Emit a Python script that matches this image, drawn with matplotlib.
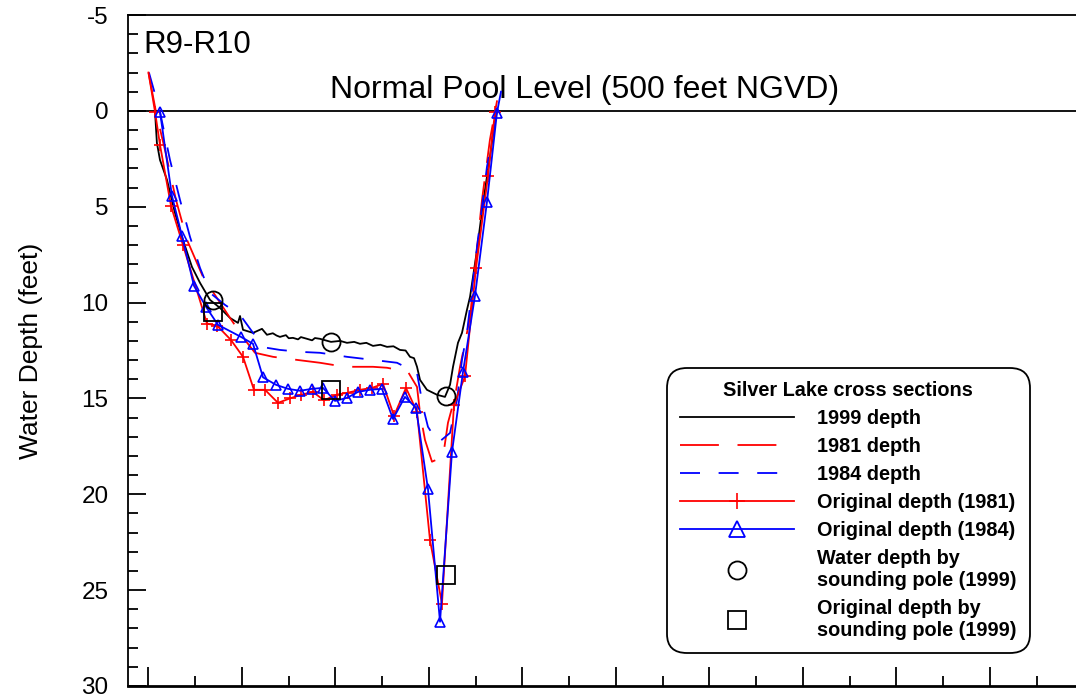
import numpy as np
import matplotlib as mpl
import matplotlib.pyplot as plt
from matplotlib.lines import Line2D
from matplotlib.ticker import MultipleLocator

mpl.rcParams.update({"font.family": ["Liberation Sans", "DejaVu Sans"], "lines.scale_dashes": False,
                     "axes.unicode_minus": False})

# --- values (station in feet, depth in feet below normal pool) ---
x1999 = [7, 9, 12.3, 19.8, 28.3, 36.9, 46.5, 55.1, 65.8, 76.5, 87.2, 95.7, 97.9, 101.1, 111.8,
         121.4, 126.7, 133, 137, 140.6, 147, 150, 154.5, 160, 163, 169.5, 175, 178, 183.4, 195.2,
         205, 212.3, 220, 226.2, 233, 240.1, 248, 255.1, 262, 269, 275, 279.7, 284, 287.2, 290.4,
         297.8, 308.6, 317.1, 322.5, 325.7, 331, 335.3, 340.6, 343.9, 351.4, 357.8, 365.2, 370.6, 372.7]
d1999 = [0.05, 1.67, 2.56, 3.6, 5.32, 6.73, 8.14, 8.97, 9.86, 10.28, 10.8, 11.06, 10.7, 11.42, 11.58,
         11.37, 11.68, 11.6, 11.72, 11.79, 11.7, 11.86, 11.84, 11.92, 11.8, 11.89, 11.97, 11.85, 11.89, 12.05,
         12.0, 12.1, 12.05, 12.15, 12.1, 12.26, 12.2, 12.31, 12.28, 12.47, 12.5, 12.83, 12.9, 13.35, 14.03,
         14.55, 14.81, 14.92, 14.29, 13.35, 12.1, 11.58, 10.38, 9.7, 7.25, 4.8, 2.4, 0.47, 0.05]

x1981 = [0, 8, 17.6, 29.4, 41.2, 58.3, 71.1, 87.2, 103.2, 113.9, 133.2, 158.8, 183.4, 197.3, 218.7,
         240.1, 255.1, 277.5, 287.2, 290.4, 295.7, 303.2, 315, 320.3, 327.8, 333.2, 338.5, 343.9, 356.7,
         365.2, 370.6]
d1981 = [-2.0, 0.05, 2.03, 4.64, 6.73, 8.66, 9.6, 10.8, 11.95, 12.62, 12.83, 12.99, 13.14, 13.25, 13.35,
         13.35, 13.4, 13.61, 14.4, 15.75, 17.16, 18.3, 18.05, 16.27, 14.92, 13.35, 12.1, 10.75, 4.64,
         1.5, 0.05]

x1984 = [0.5, 12.3, 23, 33.7, 44.4, 55.1, 65.8, 81.8, 97.9, 111.8, 126.7, 140.6, 162, 183.4, 212.3,
         240.1, 265.8, 287.2, 293.6, 298.9, 309.6, 322.5, 330, 335.3, 340.6, 351.4, 362, 367.4, 372.7]
d1984 = [-2.0, 0.05, 2.56, 4.64, 6.57, 8.19, 9.49, 10.12, 10.64, 11.58, 12.36, 12.47, 12.57, 12.62, 12.83,
         12.99, 13.14, 13.67, 15.44, 16.48, 17.32, 16.8, 15.07, 12.99, 11.58, 7.09, 2.92, 1.5, 0.05]

xorig81 = [0, 7, 12.3, 24.1, 36.9, 62.6, 73.3, 88.2, 101.1, 112.8, 124.6, 138.5, 151.3, 163.1, 175.9,
           187.7, 201.6, 213.4, 226.2, 239.1, 250.8, 262.6, 275.4, 287.2, 301.1, 313.9, 326.7, 338.5,
           350.3, 363.1, 370.6, 372.7]
dorig81 = [-2.0, 0.05, 1.77, 4.96, 7.0, 11.1, 11.2, 11.95, 12.83, 14.55, 14.55, 15.23, 15.0, 14.81, 14.66,
           15.1, 14.8, 14.7, 14.55, 14.45, 14.24, 15.91, 14.45, 15.7, 22.4, 25.7, 15.35, 13.85,
           8.2, 3.4, 0.05, -0.5]

xorig84 = [12.3, 25.1, 35.8, 48.7, 61.5, 74.3, 98.9, 111.8, 122.5, 136.4, 149.2, 162, 174.9, 186.6,
           199.5, 212.3, 224.1, 236.9, 249.7, 261.5, 274.3, 286.1, 298.9, 311.8, 324.6, 336.4, 349.2,
           362, 372.7, 377]
dorig84 = [0.05, 4.43, 6.52, 9.13, 10.22, 11.16, 11.79, 12.15, 13.9, 14.29, 14.5, 14.6, 14.5, 14.45,
           15.13, 14.97, 14.66, 14.55, 14.5, 16.07, 14.92, 15.49, 19.72, 26.65, 17.79, 13.61, 9.65,
           4.75, 0.1, -1.0]

xpole = [69, 195.2, 318.2]
dwater_pole = [9.86, 12.05, 14.87]
dorig_pole = [10.48, 14.55, 24.2]

RED, BLUE, BLK = "#ff0000", "#0000ff", "black"
DASH81, DASH84 = (0, (28, 13.4)), (0, (14.4, 13.4))

fig = plt.figure(figsize=(10.76, 6.96), dpi=100)
ax = fig.add_axes([128 / 1076, 10 / 696, 955.5 / 1076, 671 / 696])

ax.axhline(0, color=BLK, lw=1.3, zorder=1)
ax.plot(x1999, d1999, color=BLK, lw=1.3, zorder=3)
ax.plot(x1981, d1981, color=RED, lw=1.3, ls=DASH81, zorder=3)
ax.plot(x1984, d1984, color=BLUE, lw=1.3, ls=DASH84, zorder=3)
ax.plot(xorig81, dorig81, color=RED, lw=1.3, marker="+", ms=8, mew=1.2,
        markevery=list(range(1, len(xorig81) - 1)), zorder=4)
ax.plot(xorig84, dorig84, color=BLUE, lw=1.3, marker="^", ms=7, mfc="none", mew=1.2,
        markevery=list(range(len(xorig84) - 1)), zorder=5)
ax.plot(xpole, dwater_pole, ls="none", marker="o", ms=13, mfc="none", mec=BLK, mew=1.3, zorder=6)
ax.plot(xpole, dorig_pole, ls="none", marker="s", ms=13, mfc="none", mec=BLK, mew=1.3, zorder=6)

ax.set_xlim(-21.9, 1000)
ax.set_ylim(30, -5)
ax.xaxis.set_major_locator(MultipleLocator(100))
ax.xaxis.set_minor_locator(MultipleLocator(50))
ax.yaxis.set_major_locator(MultipleLocator(5))
ax.yaxis.set_minor_locator(MultipleLocator(1))
ax.tick_params(axis="y", which="major", direction="in", length=13, width=1.3, labelsize=17.5, pad=14)
ax.tick_params(axis="y", which="minor", direction="in", length=7, width=1.3)
ax.tick_params(axis="x", which="major", direction="in", length=14, width=1.3, labelbottom=False)
ax.tick_params(axis="x", which="minor", direction="in", length=7, width=1.3)
for s in ["left", "top", "right"]:
    ax.spines[s].set_linewidth(1.3)
ax.spines["bottom"].set_linewidth(2)

ax.set_ylabel("Water Depth (feet)", fontsize=19)
ax.yaxis.set_label_coords(-0.089, 0.5)

ax.text(-5.9, -3.03, "R9-R10", fontsize=22.5, ha="left", va="baseline")
ax.text(466.8, -0.68, "Normal Pool Level (500 feet NGVD)", fontsize=23, ha="center", va="baseline")

handles = [
    Line2D([], [], color=BLK, lw=1.3),
    Line2D([], [], color=RED, lw=1.3, ls=DASH81),
    Line2D([], [], color=BLUE, lw=1.3, ls=DASH84),
    Line2D([], [], color=RED, lw=1.3, marker="+", ms=11, mew=1.2),
    Line2D([], [], color=BLUE, lw=1.3, marker="^", ms=11, mfc="none", mew=1.3),
    Line2D([], [], ls="none", marker="o", ms=13, mfc="none", mec=BLK, mew=1.3),
    Line2D([], [], ls="none", marker="s", ms=13, mfc="none", mec=BLK, mew=1.3),
]
labels = ["1999 depth", "1981 depth", "1984 depth", "Original depth (1981)", "Original depth (1984)",
          "Water depth by\nsounding pole (1999)", "Original depth by\nsounding pole (1999)"]
leg = ax.legend(handles, labels, loc="upper left", bbox_to_anchor=(667 / 1076, 1 - 368 / 696),
                bbox_transform=fig.transFigure, prop={"weight": "bold", "size": 14.3},
                title="Silver Lake cross sections", title_fontproperties={"weight": "bold", "size": 14.3},
                numpoints=1, handlelength=5.74, handletextpad=1.16, labelspacing=0.45,
                borderpad=0.655, borderaxespad=0, framealpha=1, fancybox=True)
for t in leg.get_texts():
    t.set_linespacing(1.23)
frame = leg.get_frame()
frame.set_edgecolor(BLK)
frame.set_linewidth(1.3)
frame.set_boxstyle("round", pad=0, rounding_size=1.0)

fig.savefig("out.png", dpi=100)
